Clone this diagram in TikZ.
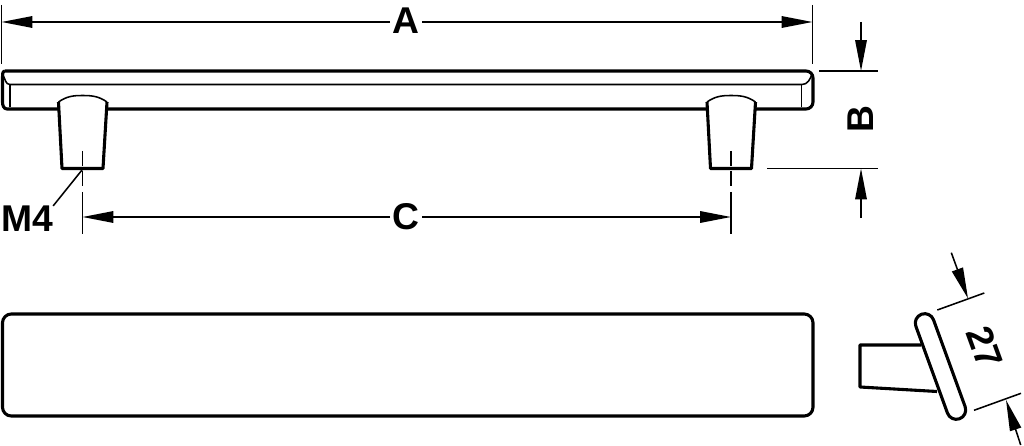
\documentclass[tikz,border=0pt]{standalone}
\usepackage{fontspec}
\setmainfont{Liberation Sans}
\usetikzlibrary{arrows.meta}
\tikzset{
  outline/.style={line width=2.2pt, line join=round},
  fine/.style={line width=1.1pt},
  dim/.style={line width=1.1pt, -{Triangle[length=22pt, width=8.2pt]}},
  axisline/.style={line width=1.1pt, dash pattern=on 10.7pt off 3.5pt on 10.7pt off 4.2pt on 40pt off 0pt},
  lbl/.style={font=\fontsize{26.5}{26.5}\selectfont\bfseries, inner sep=0pt}
}
\begin{document}
\begin{tikzpicture}[x=0.025cm, y=-0.025cm]
  \useasboundingbox (0,0) rectangle (1024,446);

  % Handle, front view
  \draw[outline] (5,71) -- (806,71) to[out=0, in=90] (813,78) -- (813,102)
    to[out=-90, in=0] (806,109) -- (7,109) to[out=180, in=-90] (2.5,102) -- (2.5,77)
    to[out=90, in=180] (5,71);
  \draw[fine] (3,75) to[out=-60, in=180] (10,84.5) -- (802,84.5) to[out=0, in=-110] (812,74);
  \draw[fine] (10,84.5) -- (10,107);
  \draw[fine] (801.5,84.5) -- (801.5,107);

  % Stems
  \foreach \sx in {0, 648.5} {
    \begin{scope}[xshift=\sx*0.025cm]
      \fill[white] (58.5,102) to[out=35, in=180] (82.5,95.5) to[out=0, in=145] (107,102)
        -- (103,168.5) -- (62,168.5) -- cycle;
      \draw[fine] (58.5,102) to[out=35, in=180] (82.5,95.5) to[out=0, in=145] (107,102);
      \draw[outline] (58.5,102) -- (62,168.5) -- (103,168.5) -- (107,102);
    \end{scope}
  }

  % Handle, top view
  \draw[outline, rounded corners=0.22cm] (2.5,314) rectangle (813,416);

  % Handle, side view
  \draw[outline] (921,345) -- (860,345) -- (860,387) -- (937,391.5);
  \node[draw, outline, fill=white, rectangle, rounded corners=0.235cm, minimum width=2.78cm,
    minimum height=0.47cm, inner sep=0pt, rotate=-70] (grip) at (940.5,366.5) {};

  % Define dimension positions
  \coordinate (a1) at (1.5,22);
  \coordinate (a2) at (812.5,22);
  \coordinate (a1up) at (1.5,5);
  \coordinate (a1dn) at (1.5,64);
  \coordinate (a2up) at (812.5,5);
  \coordinate (a2dn) at (812.5,64);
  \coordinate (b1a) at (819,71);
  \coordinate (b1b) at (878,71);
  \coordinate (b2a) at (767,168.5);
  \coordinate (b2b) at (878,168.5);
  \coordinate (b1from) at (861,22);
  \coordinate (b1to) at (861,71);
  \coordinate (b2from) at (861,218);
  \coordinate (b2to) at (861,168.5);
  \coordinate (c1) at (82.5,217);
  \coordinate (c2) at (731,217);
  \coordinate (ax1a) at (82.5,151);
  \coordinate (ax1b) at (82.5,234);
  \coordinate (ax2a) at (731,151);
  \coordinate (ax2b) at (731,234);
  \coordinate (leadtop) at (82,170);
  \coordinate (w1a) at (937.3,310);
  \coordinate (w1b) at (984.3,293);
  \coordinate (w2a) at (974,410.3);
  \coordinate (w2b) at (1021,393.3);
  \coordinate (w1from) at (951.3,252.7);
  \coordinate (w1to) at (968,298.5);
  \coordinate (w2from) at (1020.7,445);
  \coordinate (w2to) at (1006,400);

  % Define labels
  \node[lbl] (lblA) at (406,21) {A};
  \node[lbl, rotate=90] (lblB) at (861,119) {B};
  \node[lbl] (lblC) at (406,217) {C};
  \node[lbl] (lblM) at (27,219) {M4};
  \node[lbl, rotate=-70] (lblW) at (984.5,347.5) {27};

  % Draw dimensions
  \draw[fine] (a1up) -- (a1dn);
  \draw[fine] (a2up) -- (a2dn);
  \draw[dim] (lblA) ++(-16,1) -- (a1);
  \draw[dim] (lblA) ++(16,1) -- (a2);
  \draw[fine] (b1a) -- (b1b);
  \draw[fine] (b2a) -- (b2b);
  \draw[dim] (b1from) -- (b1to);
  \draw[dim] (b2from) -- (b2to);
  \draw[dim] (lblC) ++(-16,0) -- (c1);
  \draw[dim] (lblC) ++(16,0) -- (c2);
  \draw[axisline] (ax1a) -- (ax1b);
  \draw[axisline] (ax2a) -- (ax2b);
  \draw[fine] (leadtop) -- (lblM.north east);
  \draw[fine] (w1a) -- (w1b);
  \draw[fine] (w2a) -- (w2b);
  \draw[dim] (w1from) -- (w1to);
  \draw[dim] (w2from) -- (w2to);
\end{tikzpicture}
\end{document}
